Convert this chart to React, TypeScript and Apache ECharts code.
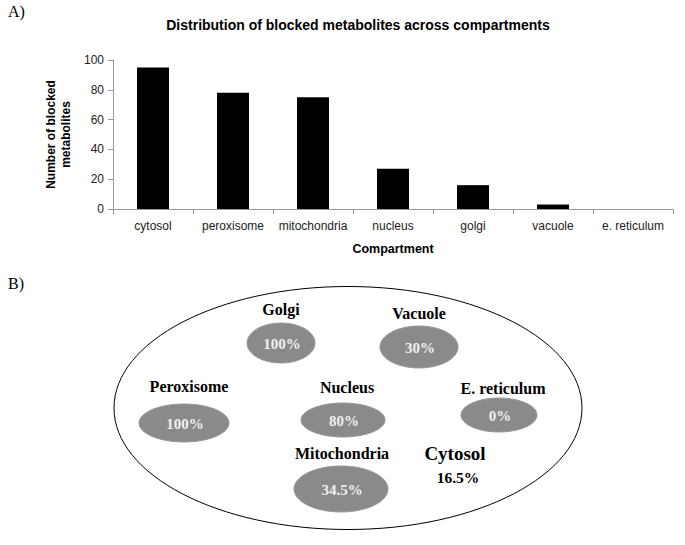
import React, { useEffect, useRef } from "react";
import * as echarts from "echarts";

// ---- Part A data ----
const categories = ["cytosol", "peroxisome", "mitochondria", "nucleus", "golgi", "vacuole", "e. reticulum"];
const blockedCounts = [95, 78, 75, 27, 16, 3, 0];
const yTicks = [0, 20, 40, 60, 80, 100];

// ---- Part B data ----
const compartmentNames = ["Golgi", "Vacuole", "Peroxisome", "Nucleus", "E. reticulum", "Mitochondria"];
const compartmentPercents = ["100%", "30%", "100%", "80%", "0%", "34.5%"];
const cytosolName = "Cytosol";
const cytosolPercent = "16.5%";

// ---- Part B layout (positions only) ----
const bubbleLayout = [
  { cx: 281, cy: 343, rx: 34, ry: 20, lx: 281, ly: 309 },
  { cx: 419, cy: 347, rx: 39, ry: 21, lx: 419, ly: 313 },
  { cx: 184, cy: 423, rx: 45, ry: 19, lx: 189, ly: 386 },
  { cx: 343, cy: 420, rx: 42, ry: 17, lx: 347, ly: 387 },
  { cx: 499, cy: 415, rx: 38, ry: 17, lx: 503, ly: 388 },
  { cx: 341, cy: 489, rx: 47, ry: 23, lx: 342, ly: 453 },
];

const SANS = "'Liberation Sans', Arial, sans-serif";
const SERIF = "'Liberation Serif', 'Times New Roman', serif";

export default function App() {
  const ref = useRef<HTMLDivElement>(null);

  useEffect(() => {
    if (!ref.current) return;
    const chart = echarts.init(ref.current, null, { renderer: "svg" });

    const bubbleGraphics: any[] = [];
    bubbleLayout.forEach((b, i) => {
      bubbleGraphics.push({
        type: "text",
        x: b.lx,
        y: b.ly,
        style: {
          text: compartmentNames[i],
          font: `bold 16px ${SERIF}`,
          fill: "#000",
          align: "center",
          verticalAlign: "middle",
        },
      });
      bubbleGraphics.push({
        type: "ellipse",
        shape: { cx: b.cx, cy: b.cy, rx: b.rx, ry: b.ry },
        style: { fill: "#8a8a8a", stroke: "#999", lineWidth: 1 },
      });
      bubbleGraphics.push({
        type: "text",
        x: b.cx + 1,
        y: b.cy + 1,
        style: {
          text: compartmentPercents[i],
          font: `bold 15px ${SERIF}`,
          fill: "#f0f0f0",
          align: "center",
          verticalAlign: "middle",
        },
      });
    });

    const option: any = {
      animation: false,
      backgroundColor: "#fff",
      textStyle: { fontFamily: SANS },
      grid: { left: 113, right: 12, top: 60, bottom: 336, containLabel: false },
      xAxis: {
        type: "category",
        data: categories,
        name: "Compartment",
        nameLocation: "middle",
        nameGap: 33,
        nameTextStyle: { fontFamily: SANS, fontWeight: "bold", fontSize: 12.5, color: "#000" },
        axisLine: { show: true, lineStyle: { color: "#999", width: 1 } },
        axisTick: { show: true, length: 5, interval: 0, lineStyle: { color: "#999" } },
        axisLabel: { interval: 0, margin: 11, fontSize: 12, color: "#222", fontFamily: SANS },
      },
      yAxis: {
        type: "value",
        min: yTicks[0],
        max: yTicks[yTicks.length - 1],
        interval: 20,
        name: "Number of blocked\nmetabolites",
        nameLocation: "middle",
        nameGap: 28,
        nameTextStyle: { fontFamily: SANS, fontWeight: "bold", fontSize: 12, color: "#000", lineHeight: 15, align: "center" },
        axisLine: { show: true, lineStyle: { color: "#999", width: 1 } },
        axisTick: { show: true, length: 5, lineStyle: { color: "#999" } },
        axisLabel: { margin: 9, fontSize: 12, color: "#222", fontFamily: SANS },
        splitLine: { show: false },
      },
      series: [
        {
          type: "bar",
          data: blockedCounts,
          barWidth: 32,
          itemStyle: { color: "#000" },
        },
      ],
      graphic: [
        {
          type: "text",
          x: 8,
          y: 11,
          style: { text: "A)", font: `16px ${SERIF}`, fill: "#000", verticalAlign: "middle" },
        },
        {
          type: "text",
          x: 358,
          y: 25,
          style: {
            text: "Distribution of blocked metabolites across compartments",
            font: `bold 14px ${SANS}`,
            fill: "#000",
            align: "center",
            verticalAlign: "middle",
          },
        },
        {
          type: "text",
          x: 8,
          y: 283,
          style: { text: "B)", font: `16px ${SERIF}`, fill: "#000", verticalAlign: "middle" },
        },
        {
          type: "ellipse",
          shape: { cx: 348, cy: 408, rx: 234, ry: 121.5 },
          style: { fill: "none", stroke: "#000", lineWidth: 1 },
        },
        ...bubbleGraphics,
        {
          type: "text",
          x: 455,
          y: 453,
          style: { text: cytosolName, font: `bold 19px ${SERIF}`, fill: "#000", align: "center", verticalAlign: "middle" },
        },
        {
          type: "text",
          x: 458,
          y: 477,
          style: { text: cytosolPercent, font: `bold 15.5px ${SERIF}`, fill: "#000", align: "center", verticalAlign: "middle" },
        },
      ],
    };

    chart.setOption(option);
    return () => chart.dispose();
  }, []);

  return (
    <div
      ref={ref}
      style={{ position: "fixed", left: 0, top: 0, width: 685, height: 545, background: "#fff" }}
    />
  );
}
